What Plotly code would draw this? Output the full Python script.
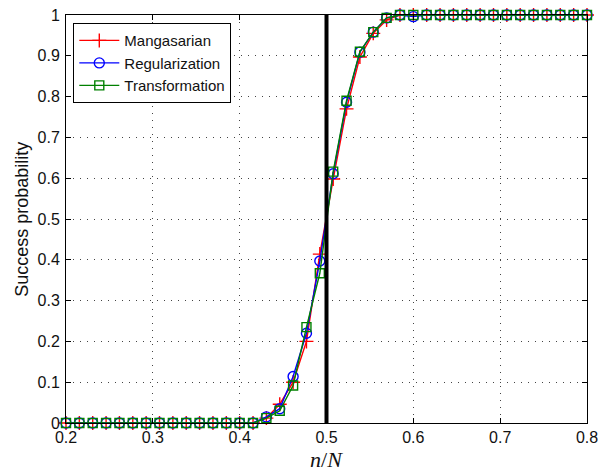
import numpy as np
import plotly.graph_objects as go

x_ratio = list(np.linspace(0.2, 0.8, 40))

mangasarian = [0]*15 + [0.012, 0.046, 0.10, 0.20, 0.414, 0.598, 0.77, 0.897, 0.955, 0.988, 1.0, 1.0] + [1.0]*13
regularization = [0]*15 + [0.015, 0.035, 0.114, 0.22, 0.397, 0.611, 0.786, 0.909, 0.958, 0.993, 1.0, 0.996] + [1.0]*13
transformation = [0]*15 + [0.012, 0.030, 0.092, 0.235, 0.367, 0.616, 0.790, 0.910, 0.958, 0.993, 1.0, 1.0] + [1.0]*13

x_ticks = [0.2, 0.3, 0.4, 0.5, 0.6, 0.7, 0.8]
y_ticks = [0, 0.1, 0.2, 0.3, 0.4, 0.5, 0.6, 0.7, 0.8, 0.9, 1]
threshold = 0.5

fig = go.Figure()
fig.add_trace(go.Scatter(x=x_ratio, y=mangasarian, name="Mangasarian", mode="lines+markers", cliponaxis=False,
                         line=dict(color="#ff0000", width=1.4),
                         marker=dict(symbol="cross-thin", size=10, line=dict(color="#ff0000", width=1.4))))
fig.add_trace(go.Scatter(x=x_ratio, y=regularization, name="Regularization", mode="lines+markers", cliponaxis=False,
                         line=dict(color="#0000ff", width=1.4),
                         marker=dict(symbol="circle-open", size=10, color="#0000ff", line=dict(width=1.4))))
fig.add_trace(go.Scatter(x=x_ratio, y=transformation, name="Transformation", mode="lines+markers", cliponaxis=False,
                         line=dict(color="#008000", width=1.4),
                         marker=dict(symbol="square-open", size=9, color="#008000", line=dict(width=1.4))))
fig.add_shape(type="line", x0=threshold, x1=threshold, y0=0, y1=1, xref="x", yref="y",
              line=dict(color="black", width=4))

axis_common = dict(showline=True, mirror="ticks", linecolor="black", linewidth=1,
                   ticks="inside", ticklen=5, tickcolor="black", automargin=False,
                   ticklabeloverflow="allow",
                   showgrid=True, gridcolor="#444444", griddash="1px,6px", gridwidth=1,
                   zeroline=False, tickfont=dict(family="Liberation Sans, Arial", size=16, color="#111111"))

fig.update_xaxes(range=[0.2, 0.8], tickvals=x_ticks, ticktext=[f"{v:g}" for v in x_ticks], **axis_common)
fig.update_yaxes(range=[0, 1], tickvals=y_ticks, ticktext=[f"{v:g}" for v in y_ticks], ticklabelstandoff=2,
                 **axis_common)

fig.add_annotation(text="<i>n</i>/<i>N</i>", xref="paper", yref="paper", x=0.5, y=-0.09,
                   xanchor="center", yanchor="middle", showarrow=False,
                   font=dict(family="Liberation Serif, Times New Roman", size=22, color="#111111"))
fig.add_annotation(text="Success probability", xref="paper", yref="paper", x=-0.085, y=0.5,
                   xanchor="center", yanchor="middle", showarrow=False, textangle=-90,
                   font=dict(family="Liberation Sans, Arial", size=18, color="#111111"))

fig.update_layout(
    width=605, height=464,
    margin=dict(l=58, r=26, t=7, b=49),
    plot_bgcolor="white", paper_bgcolor="white",
    showlegend=True,
    legend=dict(x=0.014, y=0.98, xanchor="left", yanchor="top",
                bgcolor="white", bordercolor="black", borderwidth=1,
                font=dict(family="Liberation Sans, Arial", size=15, color="#111111"),
                tracegroupgap=0, itemwidth=40),
)

fig.write_html("out.html")
